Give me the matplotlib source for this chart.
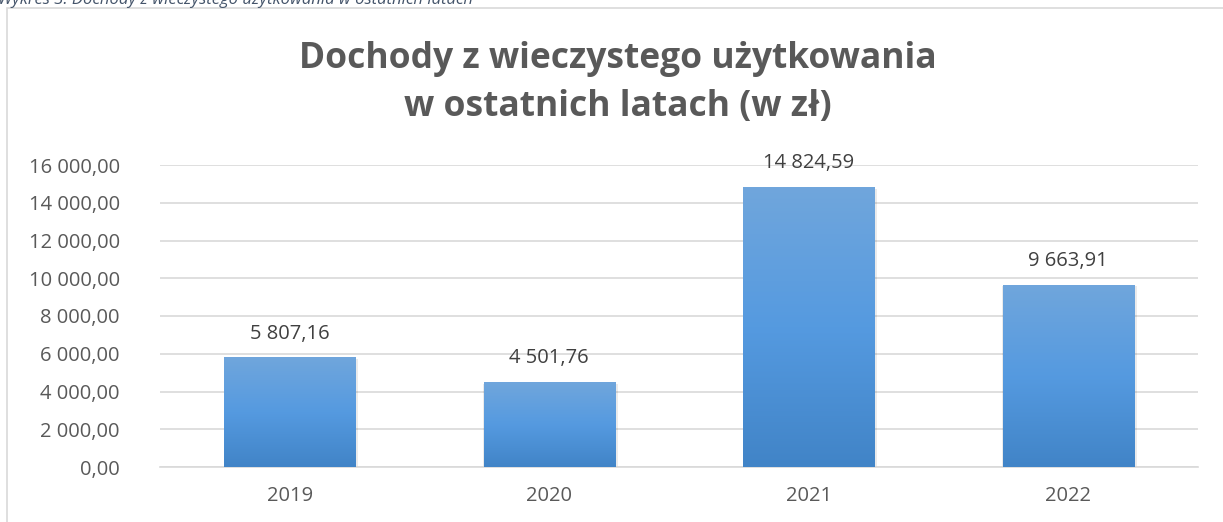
import numpy as np
import matplotlib.pyplot as plt
from matplotlib.colors import LinearSegmentedColormap

years = ["2019", "2020", "2021", "2022"]
values = [5807.16, 4501.76, 14824.59, 9663.91]
value_labels = ["5 807,16", "4 501,76", "14 824,59", "9 663,91"]
yticks = [0, 2000, 4000, 6000, 8000, 10000, 12000, 14000, 16000]
ytick_labels = ["0,00", "2 000,00", "4 000,00", "6 000,00", "8 000,00",
                "10 000,00", "12 000,00", "14 000,00", "16 000,00"]

plt.rcParams['font.family'] = ['Open Sans', 'DejaVu Sans']
text_col = "#595959"

fig = plt.figure(figsize=(12.23, 5.22), dpi=100)
ax = fig.add_axes([160 / 1223, 1 - 467 / 522, 1038 / 1223, 302 / 522])

# chart frame and cut-off caption above it
fig.add_artist(plt.Rectangle((7 / 1223, -0.1), 1.2, (522 - 8) / 522 + 0.1,
                             transform=fig.transFigure, fill=False,
                             edgecolor="#d9d9d9", lw=1.2))
fig.text(-2 / 1223, 1 - 4 / 522, "Wykres 3. Dochody z wieczystego użytkowania w ostatnich latach",
         style="italic", fontsize=12, color="#44546a", va="baseline")

x = np.arange(len(years))
bars = ax.bar(x, values, width=0.505, color="#5b9bd5", zorder=3)

cmap = LinearSegmentedColormap.from_list("g", ["#4184c7", "#559ae0", "#70a6dc"])
grad = np.linspace(0, 1, 256).reshape(-1, 1)
for b in bars:
    bx, by = b.get_x(), b.get_y()
    w, h = b.get_width(), b.get_height()
    # soft shadow
    ax.bar(bx + w / 2 + 0.005, h, width=w + 0.012, bottom=-100, color="#000000",
           alpha=0.08, zorder=2)
    im = ax.imshow(grad, cmap=cmap, origin="lower", aspect="auto",
                   extent=[bx, bx + w, by, by + h], zorder=4)
    im.set_clip_path(b)

for xi, v, lab in zip(x, values, value_labels):
    ax.annotate(lab, (xi, v), xytext=(0, 10), textcoords="offset points",
                ha="center", va="bottom", fontsize=14.5, color="#404040")

ax.set_xlim(-0.5, len(years) - 0.5)
ax.set_ylim(0, 16000)
ax.set_yticks(yticks)
ax.set_yticklabels(ytick_labels)
ax.set_xticks(x)
ax.set_xticklabels(years)
ax.tick_params(axis="both", length=0, labelsize=14.5, labelcolor=text_col)
ax.tick_params(axis="y", pad=29)
ax.tick_params(axis="x", pad=14)
ax.grid(axis="y", color="#d9d9d9", lw=1.2, zorder=0)
for s in ["top", "right", "left"]:
    ax.spines[s].set_visible(False)
ax.spines["bottom"].set_color("#d9d9d9")
ax.spines["bottom"].set_linewidth(1.2)

fig.text(618 / 1223, 1 - 83 / 522, "Dochody z wieczystego użytkowania\nw ostatnich latach (w zł)",
         ha="center", va="center", fontsize=25.5, fontweight="bold", color=text_col,
         linespacing=1.45)

fig.savefig("out.png", dpi=100)
